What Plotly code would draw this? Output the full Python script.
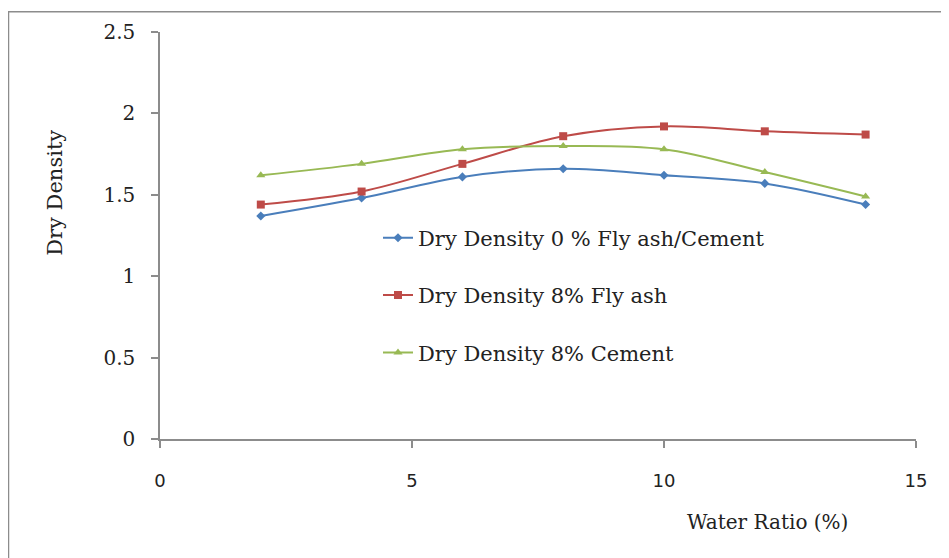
import plotly.graph_objects as go

water_ratio = [2, 4, 6, 8, 10, 12, 14]
dd_0 = [1.37, 1.48, 1.61, 1.66, 1.62, 1.57, 1.44]
dd_flyash = [1.44, 1.52, 1.69, 1.86, 1.92, 1.89, 1.87]
dd_cement = [1.62, 1.69, 1.78, 1.80, 1.78, 1.64, 1.49]

names = ["Dry Density 0 % Fly ash/Cement", "Dry Density 8% Fly ash", "Dry Density 8% Cement"]
colors = ["#4a7ebb", "#be4b48", "#98b954"]
symbols = ["diamond", "square", "triangle-up"]
sizes = [7, 8, 8]
series = [dd_0, dd_flyash, dd_cement]

SERIF = "DejaVu Serif"

fig = go.Figure()
for i, (ys, nm) in enumerate(zip(series, names)):
    fig.add_trace(go.Scatter(
        x=water_ratio, y=ys, name=nm, mode="lines+markers",
        line=dict(color=colors[i], width=2, shape="spline", smoothing=1.0),
        marker=dict(symbol=symbols[i], size=sizes[i], color=colors[i]),
        legendgroup="g%d" % i,
    ))

# page body has an 8px margin, so figure coords = reference coords - 8
OFF = 8
W, H = 949 - OFF, 558 - OFF
L, T = 160 - OFF, 29 - OFF
PR, PB = 916 - OFF, 439 - OFF
R, B = W - PR, H - PB
pw, ph = PR - L, PB - T

def px(x):
    return (x - OFF - L) / pw

def py(y):
    return (PB - (y - OFF)) / ph

fig.update_layout(
    width=W, height=H,
    margin=dict(l=L, r=R, t=T, b=B),
    paper_bgcolor="white", plot_bgcolor="white",
    font=dict(family=SERIF, size=19, color="#222"),
    showlegend=True,
    legend=dict(x=px(378), y=py(216), xanchor="left", yanchor="top",
                bgcolor="rgba(0,0,0,0)", tracegroupgap=27,
                font=dict(family=SERIF, size=21, color="#222")),
    xaxis=dict(range=[0, 15], tickvals=[0, 5, 10, 15], showgrid=False, zeroline=False,
               showline=True, linecolor="#8c8c8c", linewidth=1.5,
               ticks="outside", ticklen=7, tickcolor="#8c8c8c", tickwidth=1.5,
               ticklabelstandoff=18,
               tickfont=dict(family="DejaVu Sans", size=18, color="#222")),
    yaxis=dict(range=[0, 2.5], tickvals=[0, 0.5, 1, 1.5, 2, 2.5], ticktext=["0", "0.5", "1", "1.5", "2", "2.5"],
               showgrid=False, zeroline=False,
               showline=True, linecolor="#8c8c8c", linewidth=1.5,
               ticks="outside", ticklen=7, tickcolor="#8c8c8c", tickwidth=1.5,
               ticklabelstandoff=12,
               tickfont=dict(family=SERIF, size=20, color="#222")),
    shapes=[dict(type="rect", xref="paper", yref="paper",
                 x0=px(8.5), x1=px(980),
                 y0=py(600), y1=py(8.5),
                 line=dict(color="#8c8c8c", width=1.5), fillcolor="rgba(0,0,0,0)", layer="below")],
    annotations=[
        dict(text="Water Ratio (%)", xref="paper", yref="paper",
             x=px(767), y=py(523), xanchor="center", yanchor="middle", showarrow=False,
             font=dict(family=SERIF, size=20, color="#222")),
        dict(text="Dry Density", xref="paper", yref="paper",
             x=px(55), y=py(191), xanchor="center", yanchor="middle", showarrow=False, textangle=-90,
             font=dict(family=SERIF, size=21, color="#222")),
    ],
)

fig.write_html("out.html")
